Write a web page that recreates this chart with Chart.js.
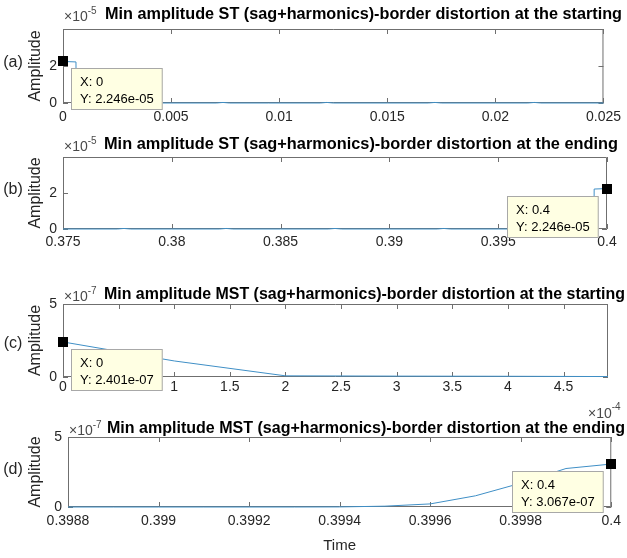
<!DOCTYPE html>
<html><head><meta charset="utf-8">
<script src="https://cdn.jsdelivr.net/npm/chart.js@4.4.0/dist/chart.umd.min.js"></script>
<style>
html,body{margin:0;padding:0;background:#fff;}
#wrap{position:relative;width:627px;height:558px;overflow:hidden;background:#fff;}
canvas{position:absolute;left:0;}
</style></head><body><div id="wrap">
<canvas id="cA"></canvas><canvas id="cB"></canvas><canvas id="cC"></canvas><canvas id="cD"></canvas>
</div>
<script>
// ---------------- DATA ----------------
const panelLabels = ['(a)', '(b)', '(c)', '(d)'];
const panelTitles = [
  'Min amplitude ST (sag+harmonics)-border distortion at the starting',
  'Min amplitude ST (sag+harmonics)-border distortion at the ending',
  'Min amplitude MST (sag+harmonics)-border distortion at the starting',
  'Min amplitude MST (sag+harmonics)-border distortion at the ending'
];
const yExponents = ['-5', '-5', '-7', '-7'];
const yAxisTitle = 'Amplitude';
const xAxisTitle = 'Time';

// (a) ST start : time (s), amplitude (x1e-5)
const timeA = [0, 0.0006, 0.00061, 0.0025, 0.005, 0.0071, 0.0074, 0.0077, 0.0095, 0.0119, 0.0122, 0.0125, 0.015, 0.0169, 0.0172, 0.0175, 0.02, 0.0215, 0.0218, 0.0221, 0.025];
const ampA  = [2.246, 2.22, 0, 0, 0, 0, 0.03, 0, 0, 0, 0.03, 0, 0, 0, 0.03, 0, 0, 0, 0.03, 0, 0];
const yTicksA = [0, 2];
const xTicksA = [0, 0.005, 0.01, 0.015, 0.02, 0.025];
const xTickLabelsA = ['0', '0.005', '0.01', '0.015', '0.02', '0.025'];

// (b) ST end : time (s), amplitude (x1e-5)
const timeB = [0.375, 0.3775, 0.3778, 0.3781, 0.38, 0.3822, 0.3825, 0.3828, 0.385, 0.3872, 0.3875, 0.3878, 0.39, 0.3922, 0.3925, 0.3928, 0.395, 0.3994, 0.39941, 0.4];
const ampB  = [0, 0, 0.03, 0, 0, 0, 0.03, 0, 0, 0, 0.03, 0, 0, 0, 0.03, 0, 0, 0, 2.22, 2.246];
const yTicksB = [0, 2];
const xTicksB = [0.375, 0.38, 0.385, 0.39, 0.395, 0.4];
const xTickLabelsB = ['0.375', '0.38', '0.385', '0.39', '0.395', '0.4'];

// (c) MST start : time (x1e-4 s), amplitude (x1e-7)
const timeC = [0, 1, 2, 3, 4, 4.9];
const ampC  = [2.401, 1.1, 0.08, 0.06, 0.05, 0.03];
const yTicksC = [0, 5];
const xTicksC = [0, 0.5, 1, 1.5, 2, 2.5, 3, 3.5, 4, 4.5];
const xTickLabelsC = ['0', '0.5', '1', '1.5', '2', '2.5', '3', '3.5', '4', '4.5'];
const xExponentC = '-4';

// (d) MST end : time (s), amplitude (x1e-7)
const timeD = [0.3988, 0.3989, 0.399, 0.3991, 0.3992, 0.3993, 0.3994, 0.3995, 0.3996, 0.3997, 0.3998, 0.3999, 0.4];
const ampD  = [0, 0, 0, 0, 0, 0, 0.005, 0.06, 0.22, 0.8, 1.7, 2.75, 3.067];
const yTicksD = [0, 5];
const xTicksD = [0.3988, 0.399, 0.3992, 0.3994, 0.3996, 0.3998, 0.4];
const xTickLabelsD = ['0.3988', '0.399', '0.3992', '0.3994', '0.3996', '0.3998', '0.4'];

// data tips: [x text, y text]
const tipA = ['X: 0', 'Y: 2.246e-05'];
const tipB = ['X: 0.4', 'Y: 2.246e-05'];
const tipC = ['X: 0', 'Y: 2.401e-07'];
const tipD = ['X: 0.4', 'Y: 3.067e-07'];

// ---------------- STYLE / LAYOUT ----------------
const FONT = '"Liberation Sans", Arial, Helvetica, sans-serif';
const AXIS_COLOR = '#6f6f6f';
const TEXT_COLOR = '#262626';
const LINE_COLOR = '#3f8fc6';
const W = 627;

const geoms = [
  {id:'cA', ct:0,   ch:128, left:63, right:608, top:29,  bottom:103, titleX:105, titleEnd:622, titleDy:-15, letterDy:-3, tickPad:6},
  {id:'cB', ct:128, ch:140, left:63, right:607, top:157, bottom:229, titleX:104, titleEnd:618, titleDy:-13, letterDy:-3, tickPad:5},
  {id:'cC', ct:268, ch:162, left:63, right:608, top:304, bottom:377, titleX:104, titleEnd:625, titleDy:-10, letterDy:3, tickPad:2},
  {id:'cD', ct:410, ch:148, left:68, right:612, top:437, bottom:507, titleX:107, titleEnd:625, titleDy:-9, letterDy:-2, tickPad:6}
];

function drawTip(ctx, px, py, side, lines) {
  ctx.save();
  ctx.font = '13px ' + FONT;
  const w = Math.max.apply(null, lines.map(l => ctx.measureText(l).width)) + 18;
  const h = 42;
  const bx = Math.round(side === 'right' ? px + 8 : px - 8 - w);
  const by = Math.round(py + 7);
  ctx.fillStyle = '#ffffe3';
  ctx.fillRect(bx, by, w, h);
  ctx.strokeStyle = '#a8a8a8';
  ctx.lineWidth = 1;
  ctx.strokeRect(bx + 0.5, by + 0.5, w - 1, h - 1);
  ctx.fillStyle = '#000';
  ctx.textAlign = 'left';
  ctx.textBaseline = 'middle';
  ctx.fillText(lines[0], bx + 9, by + 14);
  ctx.fillText(lines[1], bx + 9, by + 31);
  ctx.fillStyle = '#000';
  ctx.fillRect(Math.round(px) - 5, Math.round(py) - 5, 10, 10);
  ctx.restore();
}

function fitText(ctx, text, x, y, targetW) {
  const m = ctx.measureText(text).width;
  ctx.save();
  ctx.translate(x, y);
  ctx.scale(targetW / m, 1);
  ctx.fillText(text, 0, 0);
  ctx.restore();
}

const framePlugin = {
  id: 'frame',
  beforeDatasetsDraw(chart, args, o) {
    const ctx = chart.ctx;
    const {left, right, top, bottom} = chart.chartArea;
    ctx.save();
    ctx.strokeStyle = AXIS_COLOR;
    ctx.lineWidth = 1;
    ctx.beginPath();
    ctx.rect(left + 0.5, top + 0.5, right - left - 1, bottom - top - 1);
    const xs = chart.scales.x, ys = chart.scales.y;
    xs.ticks.forEach(t => {
      const p = Math.round(xs.getPixelForValue(t.value)) + 0.5;
      ctx.moveTo(p, bottom); ctx.lineTo(p, bottom - 5);
      ctx.moveTo(p, top); ctx.lineTo(p, top + 5);
    });
    ys.ticks.forEach(t => {
      const p = Math.round(ys.getPixelForValue(t.value)) + 0.5;
      ctx.moveTo(left, p); ctx.lineTo(left + 5, p);
      ctx.moveTo(right, p); ctx.lineTo(right - 5, p);
    });
    ctx.stroke();
    ctx.restore();
  },
  afterDraw(chart, args, o) {
    const ctx = chart.ctx;
    const {left, right, top, bottom} = chart.chartArea;
    ctx.save();
    // panel letter
    ctx.fillStyle = TEXT_COLOR;
    ctx.font = '16px ' + FONT;
    ctx.textAlign = 'center';
    ctx.textBaseline = 'middle';
    ctx.fillText(o.letter, 13, (top + bottom) / 2 + o.letterDy);
    // exponent of y axis
    const ty = top + o.titleDy;
    ctx.fillStyle = '#4a4a4a';
    ctx.textAlign = 'left';
    ctx.font = '14px ' + FONT;
    ctx.fillText('\u00d710', left + 1, ty + 3);
    const ew = ctx.measureText('\u00d710').width;
    ctx.font = '10px ' + FONT;
    ctx.fillText(o.yExp, left + 1 + ew, ty - 3);
    // title
    ctx.fillStyle = '#000';
    ctx.font = 'bold 17px ' + FONT;
    fitText(ctx, o.title, o.titleX, ty, o.titleEnd - o.titleX);
    // x exponent
    if (o.xExp) {
      ctx.fillStyle = '#4a4a4a';
      ctx.font = '14px ' + FONT;
      ctx.fillText('\u00d710', right - 20, bottom + 37);
      const w2 = ctx.measureText('\u00d710').width;
      ctx.font = '10px ' + FONT;
      ctx.fillText(o.xExp, right - 20 + w2, bottom + 30);
    }
    ctx.restore();
    // data tip
    const xs = chart.scales.x, ys = chart.scales.y;
    drawTip(ctx, xs.getPixelForValue(o.tipX), ys.getPixelForValue(o.tipY), o.tipSide, o.tip);
  }
};

function makePanel(g, cfg) {
  const cv = document.getElementById(g.id);
  cv.width = W; cv.height = g.ch;
  cv.style.top = g.ct + 'px';
  cv.style.width = W + 'px'; cv.style.height = g.ch + 'px';
  const pts = cfg.xs.map((x, i) => ({x: x, y: cfg.ys[i]}));
  return new Chart(cv, {
    type: 'line',
    data: {datasets: [{data: pts, borderColor: LINE_COLOR, borderWidth: 1, pointRadius: 0, tension: 0, fill: false, clip: 4}]},
    plugins: [framePlugin],
    options: {
      responsive: false, animation: false, devicePixelRatio: 1,
      layout: {padding: {top: g.top - g.ct, right: W - g.right, left: 0, bottom: 0}},
      plugins: {
        legend: {display: false}, tooltip: {enabled: false},
        frame: {letter: cfg.letter, yExp: cfg.yExp, title: cfg.title, titleX: g.titleX, titleEnd: g.titleEnd, titleDy: g.titleDy,
                letterDy: g.letterDy, xExp: cfg.xExp, tip: cfg.tip, tipX: cfg.tipX, tipY: cfg.tipY, tipSide: cfg.tipSide}
      },
      scales: {
        x: {
          type: 'linear', min: cfg.xMin, max: cfg.xMax,
          afterBuildTicks: s => { s.ticks = cfg.xTicks.map(v => ({value: v})); },
          afterFit: s => { s.height = g.ct + g.ch - g.bottom; },
          grid: {display: false, drawTicks: false}, border: {display: false},
          ticks: {padding: g.tickPad, color: TEXT_COLOR, font: {size: 14, family: FONT}, maxRotation: 0, autoSkip: false,
                  callback: (v, i) => cfg.xLabels[i]},
          title: {display: !!cfg.xTitle, text: cfg.xTitle || '', color: TEXT_COLOR, font: {size: 15, family: FONT}, padding: {top: 0, bottom: 3}}
        },
        y: {
          type: 'linear', min: 0, max: cfg.yMax,
          afterBuildTicks: s => { s.ticks = cfg.yTicks.map(v => ({value: v})); },
          afterFit: s => { s.width = g.left; },
          grid: {display: false, drawTicks: false}, border: {display: false},
          ticks: {padding: 6, color: TEXT_COLOR, font: {size: 14, family: FONT}, callback: v => String(v)},
          title: {display: true, text: yAxisTitle, color: TEXT_COLOR, font: {size: 16, family: FONT}, padding: {top: 26, bottom: 0}}
        }
      }
    }
  });
}

makePanel(geoms[0], {xs: timeA, ys: ampA, xMin: 0, xMax: 0.025, xTicks: xTicksA, xLabels: xTickLabelsA, yMax: 4, yTicks: yTicksA,
  letter: panelLabels[0], yExp: yExponents[0], title: panelTitles[0], tip: tipA, tipX: timeA[0], tipY: ampA[0], tipSide: 'right'});
makePanel(geoms[1], {xs: timeB, ys: ampB, xMin: 0.375, xMax: 0.4, xTicks: xTicksB, xLabels: xTickLabelsB, yMax: 4, yTicks: yTicksB,
  letter: panelLabels[1], yExp: yExponents[1], title: panelTitles[1], tip: tipB, tipX: timeB[timeB.length-1], tipY: ampB[ampB.length-1], tipSide: 'left'});
makePanel(geoms[2], {xs: timeC, ys: ampC, xMin: 0, xMax: 4.9, xTicks: xTicksC, xLabels: xTickLabelsC, yMax: 5, yTicks: yTicksC,
  letter: panelLabels[2], yExp: yExponents[2], title: panelTitles[2], xExp: xExponentC, tip: tipC, tipX: timeC[0], tipY: ampC[0], tipSide: 'right'});
makePanel(geoms[3], {xs: timeD, ys: ampD, xMin: 0.3988, xMax: 0.4, xTicks: xTicksD, xLabels: xTickLabelsD, yMax: 5, yTicks: yTicksD, xTitle: xAxisTitle,
  letter: panelLabels[3], yExp: yExponents[3], title: panelTitles[3], tip: tipD, tipX: timeD[timeD.length-1], tipY: ampD[ampD.length-1], tipSide: 'left'});
</script></body></html>
